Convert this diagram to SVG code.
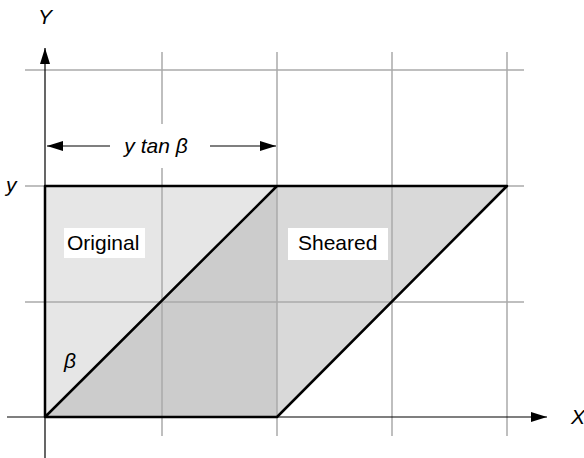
<svg xmlns="http://www.w3.org/2000/svg" width="584" height="458" viewBox="0 0 584 458">
<style>
.grid{stroke:#aaaaaa;stroke-width:1.5;fill:none}
.axis{stroke:#000;stroke-width:1.2;fill:none}
.edge{stroke:#000;stroke-width:2.5;fill:none;stroke-linecap:round;stroke-linejoin:round}
.lbl{font-family:"Liberation Sans",Arial,sans-serif;font-size:21px;fill:#000}
.it{font-style:italic}
</style>
<defs>
<marker id="ah" markerWidth="16" markerHeight="10" refX="16" refY="5" orient="auto" markerUnits="userSpaceOnUse">
<path d="M0,0 L16,5 L0,10 Z" fill="#000"/>
</marker>
</defs>
<g id="shapes">
<polygon id="original" points="45,186 277,186 277,417 45,417" fill="#e6e6e6"/>
<polygon id="sheared" points="45,417 277,186 507,186 277,417" fill="#d9d9d9"/>
<polygon id="overlap" points="45,417 277,186 277,417" fill="#cccccc"/>
</g>
<g id="grid">
<line class="grid" x1="25" y1="70" x2="524" y2="70"/>
<line class="grid" x1="25" y1="186" x2="524" y2="186"/>
<line class="grid" x1="25" y1="302" x2="524" y2="302"/>
<line class="grid" x1="162" y1="52" x2="162" y2="436"/>
<line class="grid" x1="277" y1="52" x2="277" y2="436"/>
<line class="grid" x1="392" y1="52" x2="392" y2="436"/>
<line class="grid" x1="507" y1="52" x2="507" y2="436"/>
</g>
<g id="connectors">
<line class="axis" x1="7" y1="417" x2="547" y2="417" marker-end="url(#ah)"/>
<line class="axis" x1="45" y1="458" x2="45" y2="48" marker-end="url(#ah)"/>
<path class="edge" d="M45,417 L45,186 L507,186 L277,417 L45,417 L277,186"/>
<rect x="112" y="124" width="96" height="44" fill="#fff"/>
<line class="axis" x1="110" y1="146" x2="47" y2="146" marker-end="url(#ah)"/>
<line class="axis" x1="210" y1="146" x2="276" y2="146" marker-end="url(#ah)"/>
</g>
<g id="labels">
<text class="lbl it" x="156" y="153" text-anchor="middle">y tan β</text>
<g id="label-original">
<rect x="64" y="228" width="81" height="30" fill="#fff"/>
<text class="lbl" x="67" y="250">Original</text>
</g>
<g id="label-sheared">
<rect x="288" y="228" width="100" height="32" fill="#fff"/>
<text class="lbl" x="298" y="250">Sheared</text>
</g>
<text class="lbl it" x="64" y="368">β</text>
<text class="lbl it" x="38" y="24">Y</text>
<text class="lbl it" x="571" y="424">X</text>
<text class="lbl it" x="6" y="192">y</text>
</g>
</svg>
